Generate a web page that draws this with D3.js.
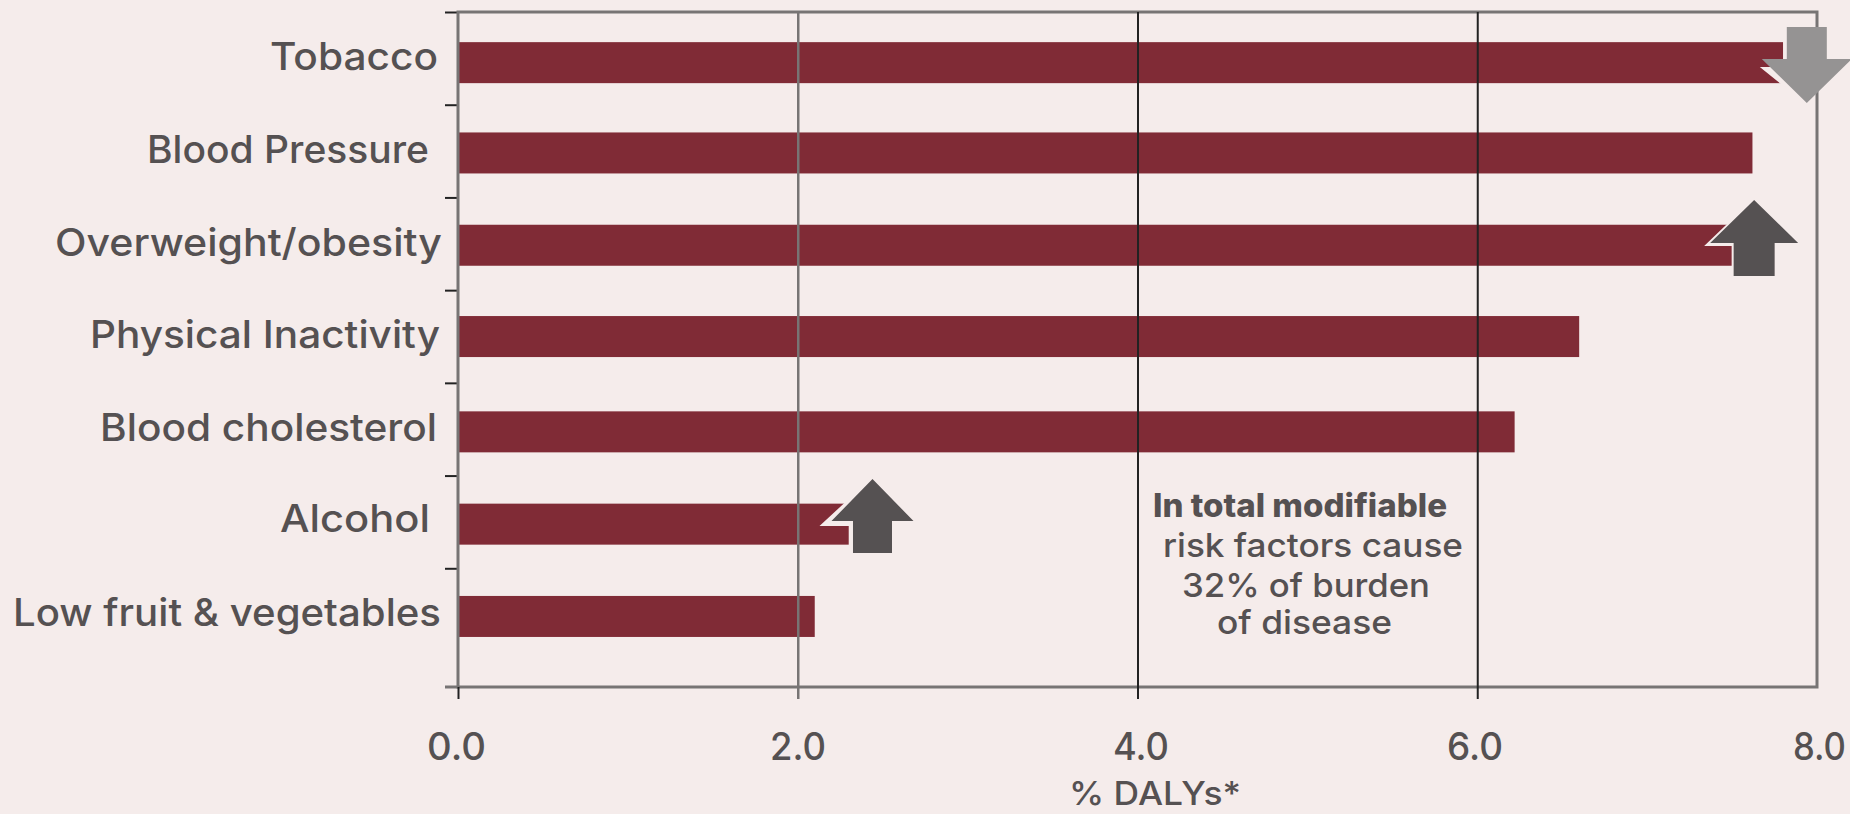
<!DOCTYPE html>
<html>
<head>
<meta charset="utf-8">
<script src="https://cdn.jsdelivr.net/npm/d3@7/dist/d3.min.js"></script>
<style>
html,body{margin:0;padding:0;background:#f5eceb;overflow:hidden}
svg{display:block}
text{font-family:Inter,"Noto Sans",sans-serif;fill:#555152;font-weight:500}
</style>
</head>
<body>
<svg id="chart" width="1850" height="814"></svg>
<script>
// ---- data ----
const categories = ["Tobacco","Blood Pressure","Overweight/obesity","Physical Inactivity","Blood cholesterol","Alcohol","Low fruit & vegetables"];
const values = [7.8,7.62,7.5,6.6,6.22,2.3,2.1];
const xTicks = [0,2,4,6,8];
const xTitle = "% DALYs*";
const noteLines = ["In total modifiable","risk factors cause","32% of burden","of disease"];
const arrowCategories = ["Tobacco","Overweight/obesity","Alcohol"];
const arrowValues = [7.94,7.63,2.44];
const arrowDirections = ["down","up","up"];

// ---- layout ----
const BG="#f5eceb", BAR="#802b36", FRAME="#777474", TXT="#555152";
const W=1850,H=814, plotL=458, plotR=1817, plotT=12, plotB=687;
const labelLeft=[270,147,55,90,100,280,13], labelWidth=[168,282,387,350,337,150,428], labelBase=[70,163,256,348,441,532,626];
const barNudge=[0,-2,-2,-3,0,0,0];
const arrowGeom=[
 {tip:103,base:59,end:27,head:45,shaft:20,fill:"#959393",mask:[-47,-8,2]},
 {tip:200,base:243,end:276,head:44,shaft:20.5,fill:TXT,mask:[-50,3,5]},
 {tip:479,base:521,end:553,head:41,shaft:19.5,fill:TXT,mask:[-53,5,6]}
];
const noteLayout=[[1153,294,517,32,800],[1163,300,557,33,500],[1182,248,597,33,500],[1217,175,634,33,500]];
const tickLabelBox=[[427,59],[770,56],[1113,56],[1447,56],[1793,53]];

const svg=d3.select("#chart");
svg.append("rect").attr("width",W).attr("height",H).attr("fill",BG);

const x=d3.scaleLinear().domain([0,8]).range([plotL,plotR]);
const y=d3.scaleBand().domain(categories).range([16.5,662.6]);
const BAR_H=41;
const barY=(c)=>y(c)+y.step()/2-BAR_H/2+barNudge[categories.indexOf(c)];
const tickPos=d3.scaleLinear().domain([0,7]).range([plotT,661]);

// bars
svg.append("g").selectAll("rect").data(categories).join("rect")
 .attr("x",x(0)).attr("y",c=>barY(c))
 .attr("width",(c,i)=>x(values[i])-x(0)).attr("height",BAR_H).attr("fill",BAR);

// left ticks
const yAxis=d3.axisLeft(tickPos).tickValues(d3.range(7)).tickSize(13).tickFormat("");
const gy=svg.append("g").attr("transform",`translate(${plotL},0)`).call(yAxis);
gy.select(".domain").remove();
gy.selectAll("line").attr("stroke","#222").attr("stroke-width",2);

// frame
svg.append("rect").attr("x",plotL).attr("y",plotT).attr("width",plotR-plotL).attr("height",plotB-plotT)
 .attr("fill","none").attr("stroke",FRAME).attr("stroke-width",3);
svg.append("line").attr("x1",plotL-13).attr("x2",plotL).attr("y1",plotB).attr("y2",plotB)
 .attr("stroke",FRAME).attr("stroke-width",3);

// vertical grid and bottom ticks
const xAxis=d3.axisBottom(x).tickValues(xTicks).tickSize(0).tickPadding(0).tickFormat("");
const gx=svg.append("g").attr("transform",`translate(0,${plotB})`).call(xAxis);
gx.select(".domain").remove();
gx.selectAll("line").attr("y1",d=>d===0?0:plotT-plotB).attr("y2",d=>d===8?0:12)
 .attr("stroke",d=>d===2?FRAME:"#222").attr("stroke-width",d=>d===2?2.5:2)
 .style("display",d=>d===8?"none":null);

// tick labels
svg.append("g").selectAll("text").data(xTicks).join("text")
 .attr("x",(d,i)=>tickLabelBox[i][0]).attr("y",760)
 .attr("textLength",(d,i)=>tickLabelBox[i][1]).attr("lengthAdjust","spacingAndGlyphs")
 .attr("font-size",38).text(d3.format(".1f"));

// category labels
svg.append("g").selectAll("text").data(categories).join("text")
 .attr("x",(c,i)=>labelLeft[i]).attr("y",(c,i)=>labelBase[i])
 .attr("textLength",(c,i)=>labelWidth[i]).attr("lengthAdjust","spacingAndGlyphs")
 .attr("font-size",38).text(c=>c);

// axis title
svg.append("text").attr("x",1069).attr("y",805).attr("textLength",172).attr("lengthAdjust","spacingAndGlyphs")
 .attr("font-size",33).text(xTitle);

// note
svg.append("g").selectAll("text").data(noteLines).join("text")
 .attr("x",(d,i)=>noteLayout[i][0]).attr("y",(d,i)=>noteLayout[i][2])
 .attr("textLength",(d,i)=>noteLayout[i][1]).attr("lengthAdjust","spacingAndGlyphs")
 .attr("font-size",(d,i)=>noteLayout[i][3]).style("font-weight",(d,i)=>noteLayout[i][4]).text(d=>d);

// arrows
arrowCategories.forEach((c,i)=>{
  const g=arrowGeom[i], cx=x(arrowValues[i]);
  const pts=[[cx,g.tip],[cx+g.head,g.base],[cx+g.shaft,g.base],[cx+g.shaft,g.end],[cx-g.shaft,g.end],[cx-g.shaft,g.base],[cx-g.head,g.base]];
  const sgn=arrowDirections[i]==="up"?1:-1;
  const m=g.mask;
  // background-coloured sliver between the arrow and the bar
  const maskPts=[[cx,g.tip-sgn*2],[cx+m[0],g.base+sgn*m[1]],[cx-g.shaft-2,g.base+sgn*m[1]],[cx-g.shaft-2,g.end],[cx,g.end]];
  svg.append("polygon").attr("points",maskPts.join(" ")).attr("fill",BG);
  svg.append("polygon").attr("points",pts.join(" ")).attr("fill",g.fill);
});
</script>
</body>
</html>
